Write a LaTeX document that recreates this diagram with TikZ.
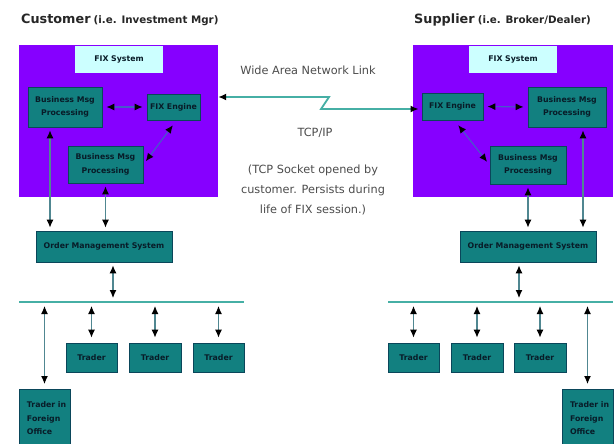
\documentclass[tikz,border=0pt]{standalone}
\usepackage{fontspec}
\setmainfont{DejaVu Sans}
\usetikzlibrary{calc}
\usetikzlibrary{arrows.meta}
\definecolor{sysviolet}{RGB}{134,0,255}
\definecolor{boxteal}{RGB}{18,128,128}
\definecolor{boxedge}{RGB}{10,70,90}
\definecolor{fixcyan}{RGB}{204,255,255}
\definecolor{linkteal}{RGB}{70,175,165}
\definecolor{arrowblue}{RGB}{70,90,200}
\definecolor{arrowgray}{RGB}{80,135,145}
\definecolor{labelink}{RGB}{8,28,40}
\tikzstyle{sysbox} = [fill=sysviolet, inner sep=0pt]
\tikzstyle{fixbox} = [fill=fixcyan, text=labelink, font=\fontsize{7.8}{9}\selectfont\bfseries]
\tikzstyle{unit} = [draw=boxedge, fill=boxteal, line width=0.8pt, text=labelink, font=\fontsize{7.8}{13.5}\selectfont\bfseries, align=center, inner sep=1pt]
\tikzstyle{inlink} = [{Latex[length=8pt,width=7pt,color=black]}-{Latex[length=8pt,width=7pt,color=black]}, draw=arrowblue, line width=1.1pt, shorten <=4pt, shorten >=4pt]
\tikzstyle{outlink} = [{Latex[length=8pt,width=7pt,color=black]}-{Latex[length=8pt,width=7pt,color=black]}, draw=arrowgray, line width=1.1pt, shorten <=3pt, shorten >=3pt]
\tikzstyle{bus} = [draw=linkteal, line width=2.5pt]
\tikzstyle{wan} = [{Latex[length=8pt,width=7pt,color=black]}-{Latex[length=8pt,width=7pt,color=black]}, draw=linkteal, line width=1.8pt]
\tikzstyle{note} = [text=black!70, font=\fontsize{11.3}{20}\selectfont]
\tikzstyle{heading} = [anchor=west, text=black!85, inner sep=0pt]

\begin{document}
\begin{tikzpicture} [x=1pt, y=-1pt]

	\path[use as bounding box, fill=white] (0,0) rectangle (614,444);

	% customer side
	\node[heading] (ctitle) at (21,20) {{\fontsize{12.8}{14}\selectfont\bfseries Customer} {\fontsize{10.3}{12}\selectfont\bfseries (i.e. Investment Mgr)}};
	\node[sysbox, minimum width=199, minimum height=152] (csys) at (118.5,121) {};
	\node[fixbox, minimum width=88, minimum height=27] (cfix) at (119,59.5) {FIX System};
	\node[unit, minimum width=74, minimum height=40] (cbmpa) at (65,107) {Business Msg\\Processing};
	\node[unit, minimum width=53, minimum height=26] (ceng) at (173.5,107) {FIX Engine};
	\node[unit, minimum width=75, minimum height=37] (cbmpb) at (105.5,164.5) {Business Msg\\Processing};
	\node[unit, minimum width=136, minimum height=31] (coms) at (104,246.5) {Order Management System};
	\node[unit, minimum width=51, minimum height=29] (ctra) at (91.5,357.5) {Trader};
	\node[unit, minimum width=52, minimum height=29] (ctrb) at (155,357.5) {Trader};
	\node[unit, minimum width=51, minimum height=29] (ctrc) at (218.5,357.5) {Trader};
	\node[unit, anchor=north, minimum width=51, minimum height=58, text width=35, inner xsep=8pt, align=left] (cfor) at (44.5,389) {\mbox{Trader in}\\Foreign\\Office};

	\coordinate (cbusw) at (19,302);
	\coordinate (cbuse) at (244,302);
	\coordinate (cbustap) at (113,302);
	\draw[bus] (cbusw) -- (cbuse);

	\draw[inlink] (cbmpa.east) -- (ceng.west);
	\draw[inlink, shorten <=6pt] ([xshift=3pt]ceng.south) -- (cbmpb.east);
	\draw[outlink] ([xshift=-15pt]cbmpa.south) -- ([xshift=-54pt]coms.north);
	\draw[outlink] (cbmpb.south) -- (cbmpb.south |- coms.north);
	\draw[outlink, shorten >=4pt] ([xshift=9pt]coms.south) -- (cbustap);
	\foreach \t in {ctra,ctrb,ctrc,cfor}
		\draw[outlink, shorten <=4pt, shorten >=5pt] (\t.north |- cbusw) -- (\t.north);

	% supplier side
	\node[heading] (stitle) at (414,20) {{\fontsize{12.8}{14}\selectfont\bfseries Supplier} {\fontsize{10.3}{12}\selectfont\bfseries (i.e. Broker/Dealer)}};
	\node[sysbox, minimum width=200, minimum height=152] (ssys) at (513,121) {};
	\node[fixbox, minimum width=88, minimum height=27] (sfix) at (513,59.5) {FIX System};
	\node[unit, minimum width=61, minimum height=27] (seng) at (452.5,106.5) {FIX Engine};
	\node[unit, minimum width=78, minimum height=40] (sbmpa) at (567,107) {Business Msg\\Processing};
	\node[unit, minimum width=76, minimum height=38] (sbmpb) at (528,165) {Business Msg\\Processing};
	\node[unit, minimum width=136, minimum height=31] (soms) at (528,246.5) {Order Management System};
	\node[unit, minimum width=51, minimum height=29] (stra) at (413.5,357.5) {Trader};
	\node[unit, minimum width=52, minimum height=29] (strb) at (477,357.5) {Trader};
	\node[unit, minimum width=52, minimum height=29] (strc) at (540,357.5) {Trader};
	\node[unit, anchor=north, minimum width=51, minimum height=58, text width=35, inner xsep=8pt, align=left] (sfor) at (587.5,389) {\mbox{Trader in}\\Foreign\\Office};

	\coordinate (sbusw) at (388,302);
	\coordinate (sbuse) at (613,302);
	\coordinate (sbustap) at (519,302);
	\draw[bus] (sbusw) -- (sbuse);

	\draw[inlink] (seng.east) -- (sbmpa.west);
	\draw[inlink, shorten <=6pt] ([xshift=2pt]seng.south) -- (sbmpb.west);
	\draw[outlink] (sbmpb.south) -- (sbmpb.south |- soms.north);
	\draw[outlink] ([xshift=16pt]sbmpa.south) -- ([xshift=55pt]soms.north);
	\draw[outlink, shorten >=4pt] ([xshift=-9pt]soms.south) -- (sbustap);
	\foreach \t in {stra,strb,strc,sfor}
		\draw[outlink, shorten <=4pt, shorten >=5pt] (\t.north |- sbusw) -- (\t.north);

	% wide area link
	\draw[wan, shorten >=3pt] ([yshift=24pt]csys.east) -- (329,97) -- (321,109) -- ([yshift=-2.5pt]seng.west);

	\node[note] (wanlabel) at (308,70) {Wide Area Network Link};
	\node[note] (tcplabel) at (315,133) {TCP/IP};
	\node[note, align=center] (socketnote) at (313,190) {(TCP Socket opened by\\customer. Persists during\\life of FIX session.)};

\end{tikzpicture}
\end{document}
